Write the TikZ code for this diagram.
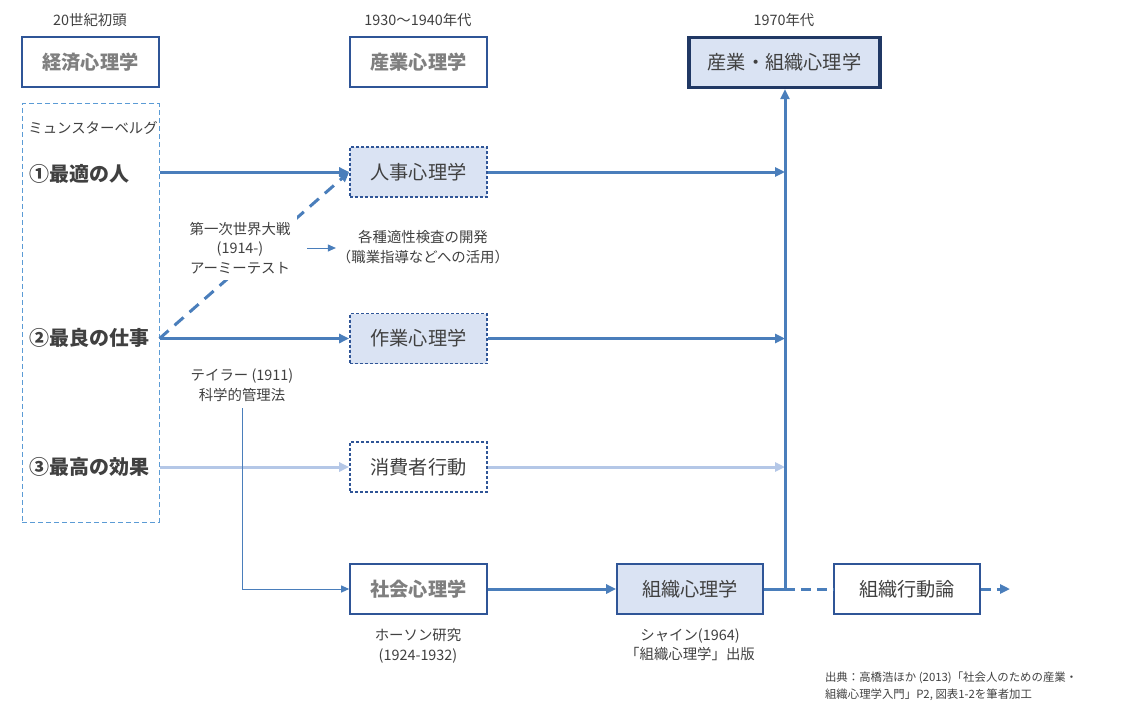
\documentclass[tikz,border=0pt]{standalone}
\usepackage{fontspec}
\setmainfont{Noto Sans CJK JP}
\usepackage{xcolor}
\definecolor{flowblue}{HTML}{4A7EBB}
\definecolor{faintblue}{HTML}{B4C7E7}
\definecolor{boxline}{HTML}{2F5597}
\definecolor{boxdark}{HTML}{203864}
\definecolor{boxfill}{HTML}{DAE3F3}
\definecolor{groupline}{HTML}{5B9BD5}
\definecolor{textgray}{HTML}{7F7F7F}
\definecolor{textdark}{HTML}{404040}
\usepackage{tikz}
\usetikzlibrary{arrows.meta}
\usetikzlibrary{calc}

\begin{document}
\begin{tikzpicture}[x=0.5pt, y=-0.5pt, >={Triangle[length=5pt,width=4.5pt]},
    era/.style={font=\fontsize{7.2}{9.7}\selectfont, text=textdark, align=center},
    field/.style={draw=boxline, line width=0.8pt, minimum width=68.5pt, minimum height=25pt, inner sep=0pt, font=\fontsize{9.6}{11}\selectfont, text=textdark},
    plan/.style={field, dash pattern=on 1.5pt off 1pt},
    point/.style={anchor=west, inner sep=0pt, font=\fontsize{10}{12}\selectfont\bfseries, text=textdark},
    flow/.style={draw=flowblue, line width=1.5pt},
    faint/.style={draw=faintblue, line width=1.5pt},
    thinflow/.style={draw=flowblue, line width=0.5pt, >={Triangle[length=4pt,width=3.5pt]}}] % Industrial psychology

      \useasboundingbox (0,0) rectangle (1124,717);

      \node [era] (t1) at (90,20) {20世紀初頭};
      \node [era] (t2) at (418,20) {1930〜1940年代};
      \node [era] (t3) at (784,20) {1970年代};

      \node [field, text=textgray, font=\fontsize{9.6}{11}\selectfont\bfseries] (keizai) at (90.5,62) {経済心理学};
      \node [field, text=textgray, font=\fontsize{9.6}{11}\selectfont\bfseries] (sangyo) at (418.5,62) {産業心理学};
      \node [field, draw=boxdark, line width=1.6pt, fill=boxfill, minimum width=95.5pt] (sangyososhiki) at (784.5,62.5) {産業・組織心理学};

      \node [draw=groupline, line width=0.5pt, dash pattern=on 2.5pt off 1.5pt, minimum width=68.5pt, minimum height=209pt] (mgroup) at (90.5,313) {};
      \node [era, anchor=west, inner sep=0pt] (munster) at (28,128) {ミュンスターベルグ};
      \node [point] (hito) at (29,174) {①最適の人};
      \node [point] (shigoto) at (29,338) {②最良の仕事};
      \node [point] (kouka) at (29,467) {③最高の効果};

      \node [plan, fill=boxfill] (jinji) at (418.5,172) {人事心理学};
      \node [plan, fill=boxfill] (sagyo) at (418.5,338.5) {作業心理学};
      \node [plan] (shohi) at (418.5,467) {消費者行動};
      \node [field, text=textgray, font=\fontsize{9.6}{11}\selectfont\bfseries] (shakai) at (418.5,589) {社会心理学};
      \node [field, fill=boxfill, minimum width=73pt] (soshiki) at (690,589) {組織心理学};
      \node [field, minimum width=73pt] (soshikikodo) at (907,589) {組織行動論};

      \coordinate (join) at (785,589);
      \coordinate (out) at (1010,589);

      \draw [flow, ->] (mgroup.east |- jinji) -- (jinji.west);
      \draw [flow, ->] (jinji.east) -- (join |- jinji);
      \draw [flow, ->] (mgroup.east |- sagyo) -- (sagyo.west);
      \draw [flow, ->] (sagyo.east) -- (join |- sagyo);
      \draw [faint, ->] (mgroup.east |- shohi) -- (shohi.west);
      \draw [faint, ->] (shohi.east) -- (join |- shohi);
      \draw [flow, dash pattern=on 6pt off 4pt, ->] (mgroup.east |- sagyo) -- (jinji.west);

      \node [era, fill=white] (war) at (240,248) {第一次世界大戦\\(1914-)\\アーミーテスト};
      \node [era] (test) at (423,247) {各種適性検査の開発\\（職業指導などへの活用）};
      \draw [thinflow, ->, shorten <=5pt, shorten >=-3pt] (war.east) -- (war.east -| test.west);

      \node [era] (taylor) at (242,385) {テイラー (1911)\\科学的管理法};
      \draw [thinflow, ->] (taylor.south) |- (shakai.west);

      \draw [flow, ->] (shakai.east) -- (soshiki.west);
      \draw [flow] (soshiki.east) -- (join);
      \draw [flow, ->] (join) -- (join |- sangyososhiki.south);
      \draw [flow, dash pattern=on 5pt off 3pt] (join) -- (soshikikodo.west);
      \draw [flow, dash pattern=on 5pt off 3pt, ->] (soshikikodo.east) -- (out);

      \node [era] (hawthorne) at (418,646) {ホーソン研究\\(1924-1932)};
      \node [era] (schein) at (690,645) {シャイン(1964)\\「組織心理学」出版};
      \node [era, anchor=west, align=left, font=\fontsize{5.7}{8.5}\selectfont] (source) at (818,686.5) {出典：高橋浩ほか (2013)「社会人のための産業・\\組織心理学入門」P2, 図表1-2を筆者加工};

    \end{tikzpicture}
\end{document}
